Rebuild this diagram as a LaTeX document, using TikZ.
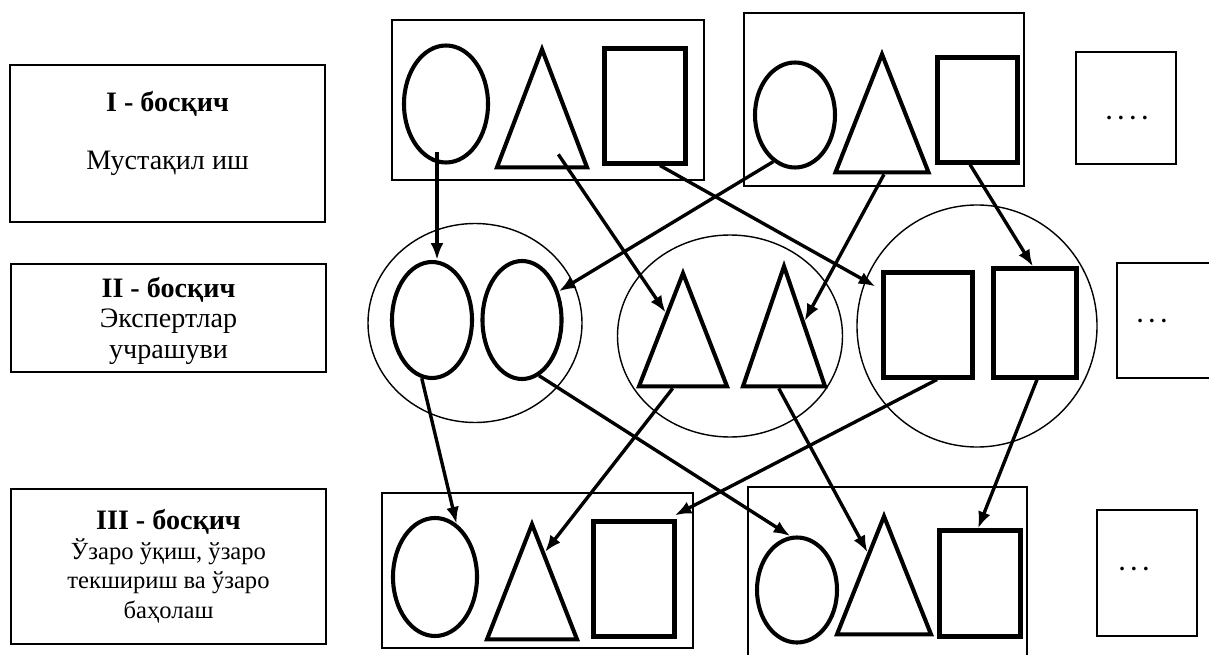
\documentclass[tikz,border=0pt]{standalone}
\usepackage{fontspec}
\setmainfont{Liberation Serif}
\usepackage{tikz}
\usetikzlibrary{arrows.meta,positioning,shapes.geometric,calc}
\tikzset{
  jig/stage/.style={draw, line width=1.2pt, align=center, inner sep=0pt, font=\fontsize{20}{22}\selectfont},
  jig/group/.style={draw, line width=1.1pt, inner sep=0pt},
  jig/team/.style={draw, ellipse, line width=1pt, inner sep=0pt},
  jig/oval/.style={draw, ellipse, line width=2.9pt, inner sep=0pt},
  jig/tri/.style={draw, isosceles triangle, isosceles triangle stretches, shape border rotate=90, line width=2.9pt, inner sep=0pt, anchor=apex},
  jig/sq/.style={draw, rectangle, line width=2.9pt, inner sep=0pt},
  jig/more/.style={draw, line width=1.1pt, inner sep=0pt},
  jig/dots/.style={font=\bfseries\fontsize{16}{16}\selectfont, inner sep=0pt},
  jig/arr/.style={-{Latex[length=4.2mm,width=3.2mm]}, line width=2.4pt}
}
\begin{document}
\begin{tikzpicture}[x=0.25mm, y=-0.25mm]
  \useasboundingbox (0,0) rectangle (1209,655);

  % stages
  \node[jig/stage, minimum width=78.75mm, minimum height=39.25mm] (stage1) at (167.5,143.5)
    {\textbf{I - босқич}\\[19pt]Мустақил иш\\[-3pt]\mbox{}};
  \node[jig/stage, minimum width=78.75mm, minimum height=27mm, text depth=-6pt] (stage2) at (168.5,318)
    {\textbf{II - босқич}\\[-1pt]Экспертлар\\учрашуви};
  \node[jig/stage, minimum width=78.75mm, minimum height=38.75mm, font=\fontsize{17.5}{21}\selectfont] (stage3) at (168.5,566.5)
    {{\fontsize{20}{22}\selectfont\bfseries III - босқич}\\Ўзаро ўқиш, ўзаро\\текшириш ва ўзаро\\баҳолаш};

  % I: home groups
  \node[jig/group, minimum width=78mm, minimum height=40mm] (home1) at (548,100) {};
  \node[jig/oval, minimum width=21mm, minimum height=29.25mm] (ov1) at (446,104) {};
  \node[jig/tri, minimum width=22.5mm, minimum height=29.5mm] (tr1) at (542,44) {};
  \node[jig/sq, minimum width=20.25mm, minimum height=28.75mm] (sq1) at (645,106) {};

  \node[jig/group, minimum width=70mm, minimum height=43.25mm] (home2) at (884,99.5) {};
  \node[jig/oval, minimum width=20mm, minimum height=26.25mm] (ov2) at (795,115) {};
  \node[jig/tri, minimum width=23.25mm, minimum height=29.5mm] (tr2) at (882,49) {};
  \node[jig/sq, minimum width=20mm, minimum height=26.25mm] (sq2) at (977.5,110) {};

  \node[jig/more, minimum width=25mm, minimum height=28mm,
    label={[jig/dots, xshift=0.25mm, yshift=-2.5mm]center:{.\kern4.5pt.\kern4.5pt.\kern4.5pt.}}] (more1) at (1126,108) {};

  % II: expert groups
  \node[jig/team, minimum width=53.5mm, minimum height=49.75mm] (exp1) at (475,323) {};
  \node[jig/oval, minimum width=20mm, minimum height=29mm] (ov3) at (432,320) {};
  \node[jig/oval, minimum width=19.75mm, minimum height=29.5mm] (ov4) at (522,320) {};

  \node[jig/team, minimum width=56.25mm, minimum height=50.5mm] (exp2) at (730,336) {};
  \node[jig/tri, minimum width=22mm, minimum height=28.25mm] (tr3) at (683,268) {};
  \node[jig/tri, minimum width=20.5mm, minimum height=30mm] (tr4) at (784,261) {};

  \node[jig/team, minimum width=60mm, minimum height=60.5mm] (exp3) at (977,326) {};
  \node[jig/sq, minimum width=22.25mm, minimum height=26.25mm] (sq3) at (928,325) {};
  \node[jig/sq, minimum width=20.75mm, minimum height=27.25mm] (sq4) at (1035,323) {};

  \node[jig/more, minimum width=25mm, minimum height=28.75mm,
    label={[jig/dots, xshift=-3.75mm]center:{.\kern4.5pt.\kern4.5pt.}}] (more2) at (1167,320.5) {};

  % III: back home
  \node[jig/group, minimum width=77.75mm, minimum height=38.75mm] (back1) at (537.5,570.5) {};
  \node[jig/oval, minimum width=21mm, minimum height=29.5mm] (ov5) at (435,577) {};
  \node[jig/tri, minimum width=22.5mm, minimum height=28.75mm] (tr5) at (532,519) {};
  \node[jig/sq, minimum width=20.25mm, minimum height=28.75mm] (sq5) at (634,579) {};

  \node[jig/group, minimum width=69.75mm, minimum height=45mm] (back2) at (887.5,577) {};
  \node[jig/oval, minimum width=20mm, minimum height=26.25mm] (ov6) at (797,590) {};
  \node[jig/tri, minimum width=23.5mm, minimum height=29.5mm] (tr6) at (884,511) {};
  \node[jig/sq, minimum width=20.25mm, minimum height=26.5mm] (sq6) at (980,583.5) {};

  \node[jig/more, minimum width=25mm, minimum height=31.5mm,
    label={[jig/dots, xshift=-3.25mm, yshift=1mm]center:{.\kern4.5pt.\kern4.5pt.}}] (more3) at (1147,573) {};

  % I -> II
  \draw[jig/arr] ($(ov1.south)+(-9,-13)$) -- ($(ov3.north)+(5,0)$);
  \draw[jig/arr] ($(tr1.left corner)!0.67!(tr1.right corner)+(0,-15)$) -- ($(tr3.apex)!0.37!(tr3.left corner)$);
  \draw[jig/arr] ($(sq1.south)+(15,0)$) -- ($(sq3.north west)+(-6,16)$);
  \draw[jig/arr] (ov2.-115) -- (ov4.38);
  \draw[jig/arr] ($(tr2.left corner)!0.52!(tr2.right corner)$) -- ($(tr4.apex)!0.47!(tr4.right corner)$);
  \draw[jig/arr] ($(sq2.south)+(-7.5,0)$) -- ($(sq4.north)+(-2,0)$);

  % II -> III
  \draw[jig/arr] (ov3.-100) -- (ov5.68);
  \draw[jig/arr] (ov4.-73) -- (ov6.97);
  \draw[jig/arr] ($(tr3.left corner)!0.39!(tr3.right corner)$) -- ($(tr5.apex)!0.27!(tr5.right corner)$);
  \draw[jig/arr] ($(tr4.left corner)!0.44!(tr4.right corner)$) -- ($(tr6.apex)!0.33!(tr6.left corner)$);
  \draw[jig/arr] ($(sq3.south)+(9,0)$) -- ($(sq5.north east)+(-2,-4)$);
  \draw[jig/arr] ($(sq4.south)+(2,0)$) -- ($(sq6.north)+(-2,0)$);
\end{tikzpicture}
\end{document}
